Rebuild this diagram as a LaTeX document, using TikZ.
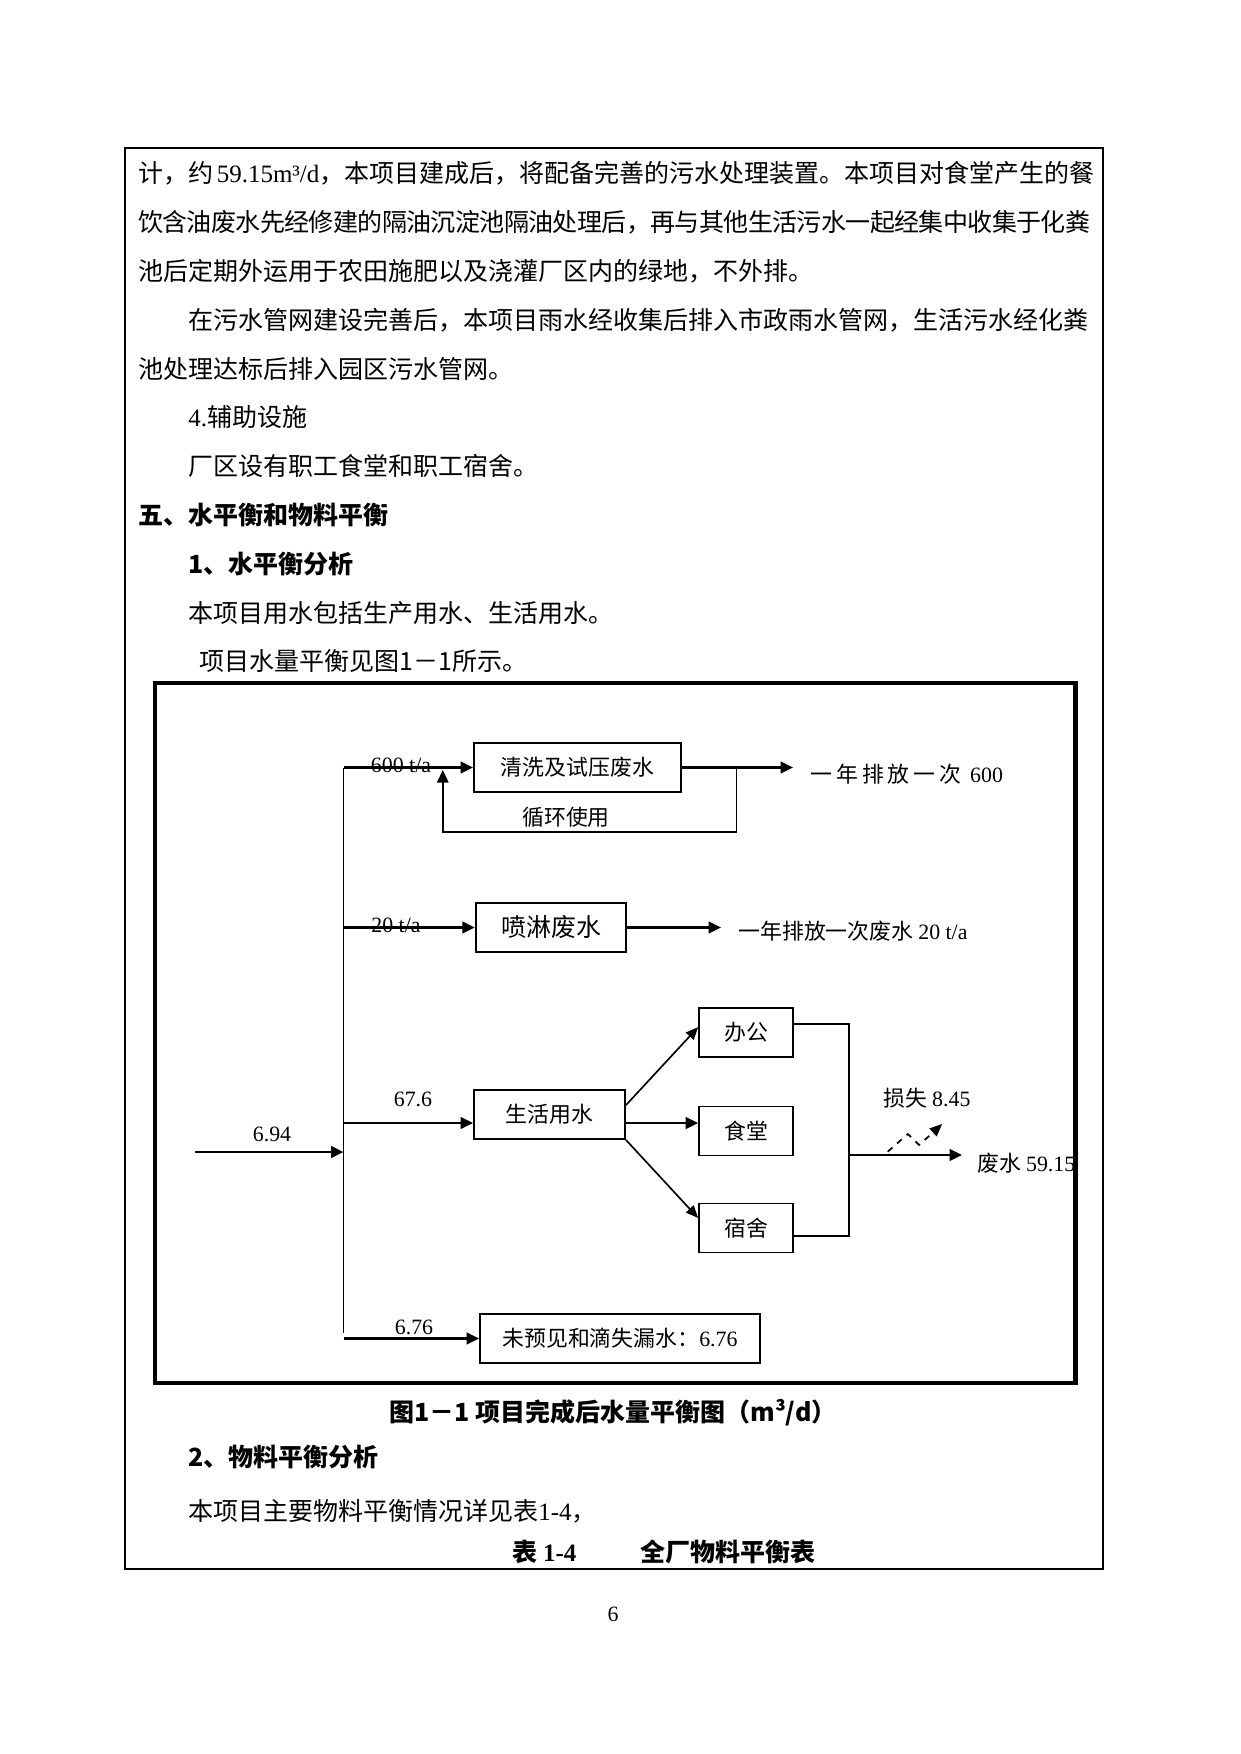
\documentclass[tikz,border=0pt]{standalone}
\usepackage{fontspec}
\setmainfont{Noto Sans CJK SC}
\newfontfamily\tnrfont{Liberation Serif}
\usetikzlibrary{positioning, arrows.meta, calc}
\XeTeXlinebreaklocale "zh"
\XeTeXlinebreakskip=0pt plus 1pt minus 0.6pt
\newcommand{\tnr}[1]{{\tnrfont #1}}
\newcommand{\fullline}{457pt}
\newcommand{\indentline}{433.5pt}
\newcommand{\bodysize}{\fontsize{12pt}{12pt}\selectfont}
\newcommand{\figsize}{\fontsize{10.5pt}{12pt}\selectfont}

\begin{document}
\begin{tikzpicture}[
    x=0.48pt, y=-0.48pt,
    para/.style={
        anchor=west,
        inner sep=0pt,
        font=\bodysize,
        text height=10.5pt,
        text depth=1.5pt
    },
    head/.style={para, font=\bodysize\bfseries},
    box/.style={
        draw,
        line width=0.9pt,
        inner sep=0pt,
        minimum height=23.5pt,
        font=\figsize
    },
    tag/.style={inner sep=0pt, font=\figsize},
    flow/.style={line width=1.3pt, -{Triangle[length=6pt, width=5.5pt]}},
    branch/.style={line width=0.8pt, -{Triangle[length=6pt, width=5pt]}},
    pipe/.style={line width=0.7pt}
]

    % --- page and body text ---
    \fill[white] (0,0) rectangle (1241,1754);
    \draw[line width=0.6pt] (125,148) rectangle (1103,1569);

    \node[para] (l1) at (137.6,173.5) {\hbox to \fullline{计，约 \tnr{59.15m³/d}，本项目建成后，将配备完善的污水处理装置。本项目对食堂产生的餐}};
    \node[para] (l2) at (137.6,222.3) {\addfontfeature{LetterSpace=-2.4}饮含油废水先经修建的隔油沉淀池隔油处理后，再与其他生活污水一起经集中收集于化粪};
    \node[para] (l3) at (137.6,271.1) {池后定期外运用于农田施肥以及浇灌厂区内的绿地，不外排。};
    \node[para] (l4) at (188,319.9) {\hbox to \indentline{在污水管网建设完善后，本项目雨水经收集后排入市政雨水管网，生活污水经化粪}};
    \node[para] (l5) at (137.6,368.7) {池处理达标后排入园区污水管网。};
    \node[para] (l6) at (188,417.5) {\tnr{4.}辅助设施};
    \node[para] (l7) at (188,466.3) {厂区设有职工食堂和职工宿舍。};
    \node[head] (l8) at (137.6,515.1) {五、水平衡和物料平衡};
    \node[head] (l9) at (188,563.9) {1、水平衡分析};
    \node[para] (l10) at (188,612.7) {本项目用水包括生产用水、生活用水。};
    \node[para] (l11) at (199,661.5) {项目水量平衡见图1－1所示。};

    % --- 1) figure frame ---
    \draw[line width=2.2pt] (155,683) rectangle (1075.5,1383);

    % --- 2) boxes ---
    \node[box, minimum width=99.4pt] (wash) at (577.5,767.5) {清洗及试压废水};
    \node[box, minimum width=72.2pt, font=\bodysize] (spray) at (551,927.5) {喷淋废水};
    \node[box, minimum width=72.5pt] (life) at (549.5,1114.5) {生活用水};
    \node[box, minimum width=45pt] (office) at (746,1032.5) {办公};
    \node[box, minimum width=45pt] (canteen) at (746,1131) {食堂};
    \node[box, minimum width=45pt] (dorm) at (746,1228) {宿舍};
    \node[box, minimum width=134.4pt] (leak) at (620,1338.5) {未预见和滴失漏水：\tnr{6.76}};

    % --- 3) supply and trunk ---
    \coordinate (src) at (195,1152);
    \coordinate (hub) at (343.5,1152);
    \coordinate (j1) at (343.5,767.5);
    \coordinate (j2) at (343.5,927.5);
    \coordinate (j3) at (343.5,1123);
    \coordinate (j4) at (343.5,1338.5);
    \coordinate (tbot) at (343.5,1333);

    \draw[pipe] (j1) -- (tbot);
    \draw[flow] (src) -- (hub);
    \node[tag] (t694) at (272,1134) {\tnr{6.94}};

    % --- 4) cleaning and pressure test water ---
    \draw[flow] (j1) -- (wash.west);
    \node[tag] (t600) at (401,765) {\tnr{600 t/a}};
    \coordinate (o1) at (793,767.5);
    \draw[flow] (wash.east) -- (o1);
    \node[tag, anchor=west] (d1) at (810,774) {\addfontfeature{LetterSpace=18}一年排放一次 \tnr{600}};

    \coordinate (lp1) at (736.7,767.5);
    \coordinate (lp2) at (736.7,832);
    \coordinate (lp3) at (442.8,770);
    \draw[pipe, -{Triangle[length=6pt, width=5.5pt]}] (lp1) -- (lp2) -| (lp3);
    \node[tag] (reuse) at (566,817) {循环使用};

    % --- 5) spray water ---
    \draw[flow] (j2) -- (spray.west);
    \node[tag] (t20) at (396,925) {\tnr{20 t/a}};
    \coordinate (o2) at (721,927.5);
    \draw[flow] (spray.east) -- (o2);
    \node[tag, anchor=west] (d2) at (738,931) {一年排放一次废水 \tnr{20 t/a}};

    % --- 6) domestic water ---
    \draw[flow] (j3) -- (j3 -| life.west);
    \node[tag] (t676a) at (413,1099) {\tnr{67.6}};
    \draw[branch] ([yshift=4.5pt]life.east) -- ([yshift=2.6pt]office.west);
    \draw[flow] (j3 -| life.east) -- (j3 -| canteen.west);
    \draw[branch] (life.south east) -- ([yshift=4.8pt]dorm.west);

    \coordinate (c1) at (849,1024);
    \coordinate (c2) at (849,1236);
    \coordinate (c3) at (849,1155);
    \coordinate (o3) at (962,1155);
    \draw[pipe] (office.east |- c1) -- (c1) -- (c2) -- (dorm.east |- c2);
    \draw[flow] (c3) -- (o3);
    \node[tag, anchor=west] (ww) at (977,1163) {废水 \tnr{59.15}};
    \node[tag] (loss) at (927,1098) {损失 \tnr{8.45}};

    \coordinate (s1) at (887.7,1151.7);
    \coordinate (s2) at (907.8,1134);
    \coordinate (s3) at (919.2,1145);
    \coordinate (s4) at (942.2,1124);
    \draw[branch, dashed] (s1) -- (s2) -- (s3) -- (s4);

    % --- 7) unforeseen losses ---
    \draw[flow] (j4) -- (leak.west);
    \node[tag] (t676) at (414,1327) {\tnr{6.76}};

    % --- caption and following text ---
    \node[head, anchor=center] (cap) at (613,1412) {图1－1 项目完成后水量平衡图（m³/d）};
    \node[head] (l12) at (188,1457) {2、物料平衡分析};
    \node[para] (l13) at (188,1510.8) {本项目主要物料平衡情况详见表\tnr{1-4}，};
    \node[head] (tb) at (512,1552) {表 \tnr{1-4}};
    \node[head] (tbname) at (640,1552) {全厂物料平衡表};
    \node[tag] (pg) at (613,1614) {\tnr{6}};

\end{tikzpicture}
\end{document}
